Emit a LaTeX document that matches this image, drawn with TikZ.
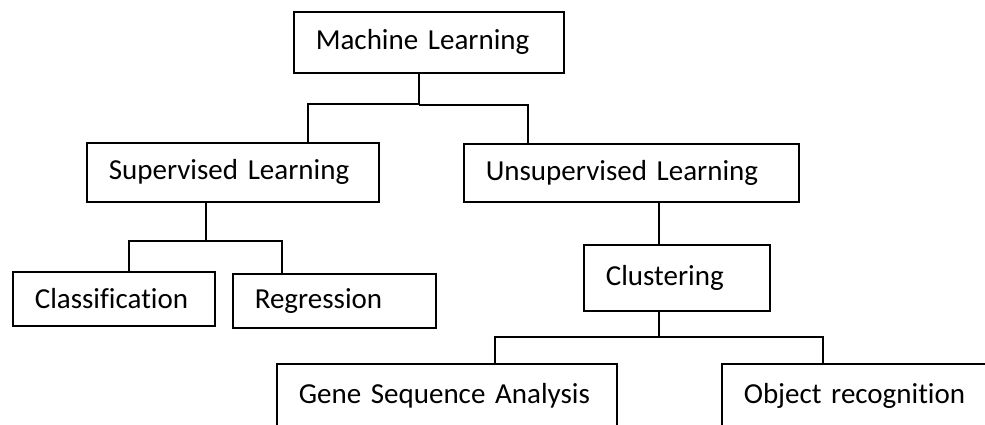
\documentclass[tikz,border=0pt]{standalone}
\usepackage{fontspec}
\setmainfont{Carlito}[Ligatures={NoCommon,NoRare,NoDiscretionary}]
\begin{document}
\begin{tikzpicture}[x=1pt,y=-1pt,
  box/.style={draw, line width=1.6pt, rectangle, anchor=north west, inner xsep=22pt, inner ysep=0pt, align=left, font=\fontsize{29}{34}\selectfont},
  conn/.style={line width=1.6pt}]
\useasboundingbox[fill=white] (0,0) rectangle (985,425);
% boxes
\node[box, text width=226pt, minimum height=61pt] (ml) at (293,11) {Machine Learning};
\node[box, text width=248pt, minimum height=59pt] (sup) at (86,142) {Supervised Learning};
\node[box, text width=291pt, minimum height=58pt] (uns) at (463,143) {Unsupervised Learning};
\node[box, text width=158pt, minimum height=54pt] (cls) at (12,271) {Classification};
\node[box, text width=159pt, minimum height=54pt] (reg) at (232,273) {Regression};
\node[box, text width=142pt, minimum height=66pt] (clu) at (583,244) {Clustering};
\node[box, text width=296pt, minimum height=64pt] (gene) at (276,363) {Gene Sequence Analysis};
\node[box, text width=235pt, minimum height=64pt] (obj) at (721,363) {Object recognition};
% junction coordinates
\coordinate (j1) at (419,104);
\coordinate (j1r) at (419,105);
\coordinate (xs) at (308,0);
\coordinate (xu) at (528,0);
\coordinate (j2) at (206,241);
\coordinate (xc) at (129,0);
\coordinate (xr) at (282,0);
\coordinate (xk) at (659,0);
\coordinate (j3) at (659,337);
\coordinate (xg) at (495,0);
\coordinate (xo) at (823,0);
% connectors
\draw[conn] (ml.south -| j1) -- (j1r);
\draw[conn] (j1) -| (sup.north -| xs);
\draw[conn] (j1r) -| (uns.north -| xu);
\draw[conn] (sup.south -| j2) -- (j2);
\draw[conn] (j2) -| (cls.north -| xc);
\draw[conn] (j2) -| (reg.north -| xr);
\draw[conn] (uns.south -| xk) -- (clu.north -| xk);
\draw[conn] (clu.south -| j3) -- (j3);
\draw[conn] (j3) -| (gene.north -| xg);
\draw[conn] (j3) -| (obj.north -| xo);
\end{tikzpicture}
\end{document}
